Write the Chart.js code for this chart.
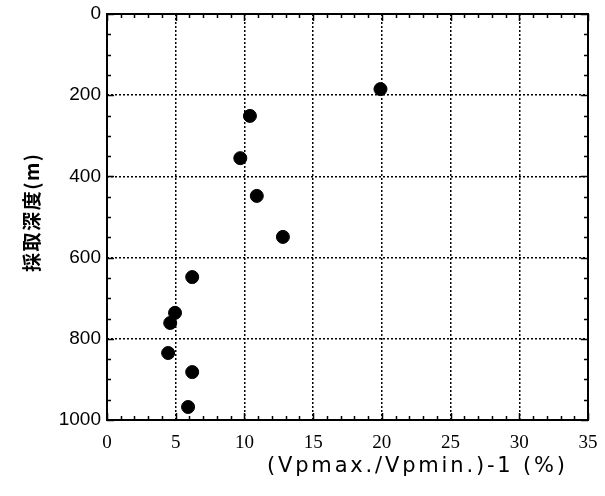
<!DOCTYPE html>
<html>
<head>
<meta charset="utf-8">
<script src="https://cdn.jsdelivr.net/npm/chart.js@4"></script>
<style>
  html, body { margin: 0; padding: 0; background: #fff; }
  #wrap { width: 605px; height: 496px; }
</style>
</head>
<body>
<div id="wrap"><canvas id="myChart" width="605" height="496"></canvas></div>
<script>
// ratio (%) vs sampling depth (m)
const ratioValues = [19.9, 10.4, 9.7, 10.9, 12.8, 6.2, 4.95, 4.6, 4.45, 6.2, 5.9];
const depthValues = [185, 251, 355, 448, 549, 648, 736, 761, 835, 882, 968];

const xTitle = "(Vpmax./Vpmin.)-1 (%)";
const yTitle = "採取深度(m)";

const points = ratioValues.map((r, i) => ({ x: r, y: depthValues[i] }));

// draw text spread to a given width (the original titles are letter-spaced)
function spreadText(ctx, text, cx, cy, width) {
  ctx.letterSpacing = "0px";
  const w = ctx.measureText(text).width;
  const sp = Math.max(0, (width - w) / (text.length - 1));
  ctx.letterSpacing = sp + "px";
  ctx.textAlign = "center";
  ctx.textBaseline = "middle";
  ctx.fillText(text, cx + sp / 2, cy);
  ctx.letterSpacing = "0px";
}

// box + inward ticks on all four sides, plus the axis titles
const frameTicks = {
  id: "frameTicks",
  afterDraw(chart) {
    const { ctx, chartArea: a, scales: { x, y } } = chart;
    ctx.save();
    ctx.strokeStyle = "#000";
    ctx.lineWidth = 1.5;
    ctx.beginPath();
    for (let v = 0; v <= 35; v += 1) {
      const px = Math.round(x.getPixelForValue(v)) + 0.5;
      const len = v % 5 === 0 ? 7 : 4;
      ctx.moveTo(px, a.bottom); ctx.lineTo(px, a.bottom - len);
      ctx.moveTo(px, a.top); ctx.lineTo(px, a.top + len);
    }
    for (let v = 0; v <= 1000; v += 50) {
      const py = Math.round(y.getPixelForValue(v)) + 0.5;
      const len = v % 200 === 0 ? 7 : 4;
      ctx.moveTo(a.left, py); ctx.lineTo(a.left + len, py);
      ctx.moveTo(a.right, py); ctx.lineTo(a.right - len, py);
    }
    ctx.stroke();
    ctx.lineWidth = 2;
    ctx.strokeRect(a.left, a.top, a.right - a.left, a.bottom - a.top);

    ctx.fillStyle = "#000";
    ctx.font = "21px 'DejaVu Sans'";
    spreadText(ctx, xTitle, 416, 467, 298);

    ctx.translate(32, 213);
    ctx.rotate(-Math.PI / 2);
    ctx.font = "bold 19px 'Noto Sans CJK JP'";
    spreadText(ctx, yTitle, 0, 0, 118);
    ctx.restore();
  }
};

const config = {
  type: "scatter",
  data: {
    datasets: [
      {
        data: points,
        backgroundColor: "#000",
        borderColor: "#000",
        pointRadius: 6.5,
        pointHoverRadius: 6.5
      }
    ]
  },
  options: {
    responsive: false,
    animation: false,
    events: [],
    layout: {
      padding: { left: 0, right: 17, top: 14, bottom: 0 }
    },
    plugins: {
      legend: { display: false },
      tooltip: { enabled: false }
    },
    scales: {
      x: {
        type: "linear",
        min: 0,
        max: 35,
        ticks: {
          stepSize: 5,
          color: "#000",
          padding: 12,
          font: { family: "Liberation Serif", size: 19 }
        },
        grid: { color: "#000", lineWidth: 1.5, drawTicks: false },
        border: { display: false, dash: [2, 2] },
        afterFit(scale) {
          scale.height = 76;
          scale.paddingLeft = 0;
          scale.paddingRight = 0;
        }
      },
      y: {
        type: "linear",
        reverse: true,
        min: 0,
        max: 1000,
        ticks: {
          stepSize: 200,
          color: "#000",
          padding: 6,
          font: { family: "Liberation Sans", size: 19 },
          callback: (v) => String(v)
        },
        grid: { color: "#000", lineWidth: 1.5, drawTicks: false },
        border: { display: false, dash: [2, 2] },
        afterFit(scale) {
          scale.width = 107;
          scale.paddingTop = 0;
          scale.paddingBottom = 0;
        }
      }
    }
  },
  plugins: [frameTicks]
};

new Chart(document.getElementById("myChart").getContext("2d"), config);
</script>
</body>
</html>
